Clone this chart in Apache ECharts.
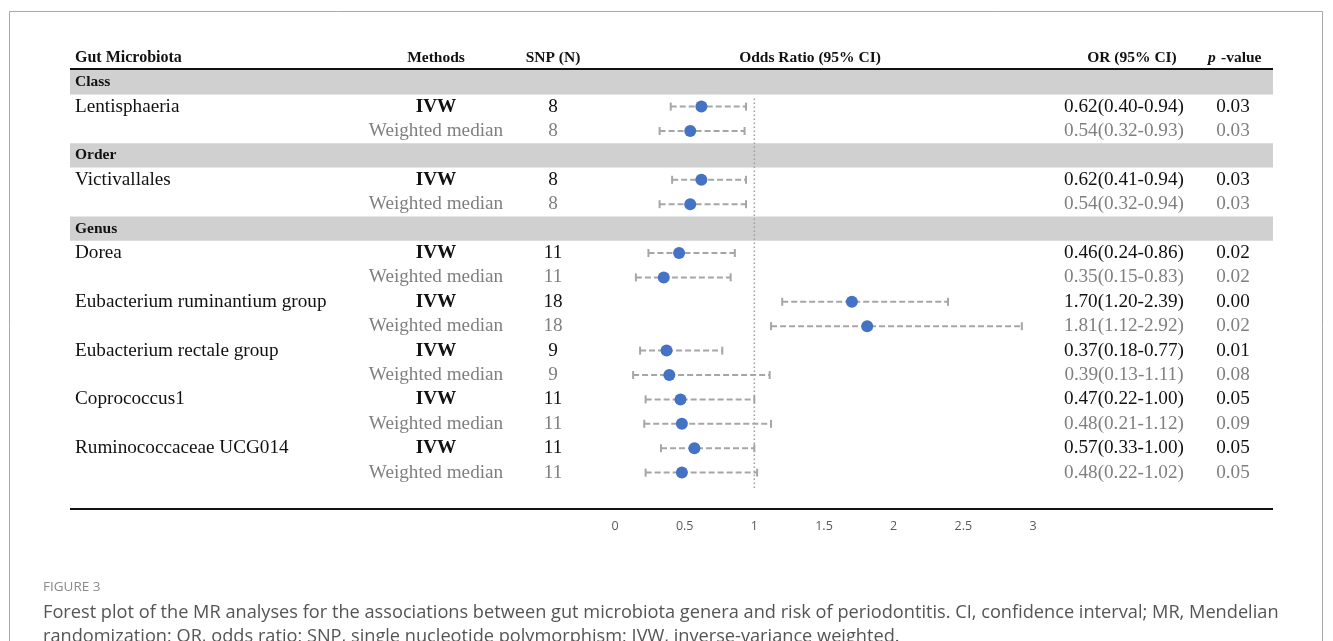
<!DOCTYPE html>
<html>
<head>
<meta charset="utf-8">
<title>Forest plot</title>
<script src="https://cdn.jsdelivr.net/npm/echarts@6/dist/echarts.min.js"></script>
<style>
  html, body { margin: 0; padding: 0; background: #fff; }
  #chart { width: 1333px; height: 641px; }
</style>
</head>
<body>
<div id="chart"></div>
<script>
// taxonomy groups and taxa
const groups = ['Class', 'Order', 'Genus']
const taxa = ['Lentisphaeria', 'Victivallales', 'Dorea', 'Eubacterium ruminantium group',
  'Eubacterium rectale group', 'Coprococcus1', 'Ruminococcaceae UCG014']
const taxonGroup = [0, 1, 2, 2, 2, 2, 2]
const methods = ['IVW', 'Weighted median']
const snpCount = [8, 8, 11, 18, 9, 11, 11]

// IVW estimates
const orIVW = [0.62, 0.62, 0.46, 1.70, 0.37, 0.47, 0.57]
const lowIVW = [0.40, 0.41, 0.24, 1.20, 0.18, 0.22, 0.33]
const highIVW = [0.94, 0.94, 0.86, 2.39, 0.77, 1.00, 1.00]
const pIVW = ['0.03', '0.03', '0.02', '0.00', '0.01', '0.05', '0.05']

// weighted median estimates
const orWM = [0.54, 0.54, 0.35, 1.81, 0.39, 0.48, 0.48]
const lowWM = [0.32, 0.32, 0.15, 1.12, 0.13, 0.21, 0.22]
const highWM = [0.93, 0.94, 0.83, 2.92, 1.11, 1.12, 1.02]
const pWM = ['0.03', '0.03', '0.02', '0.02', '0.08', '0.09', '0.05']

const xTicks = [0, 0.5, 1, 1.5, 2, 2.5, 3]

// build table rows: a grey band for each group, then two rows per taxon
const rows = []
let lastGroup = -1
taxa.forEach((name, i) => {
  if (taxonGroup[i] !== lastGroup) {
    rows.push({ kind: 'group', label: groups[taxonGroup[i]] })
    lastGroup = taxonGroup[i]
  }
  rows.push({ kind: 'ivw', name: name, method: methods[0], snp: snpCount[i],
    or: orIVW[i], low: lowIVW[i], high: highIVW[i], p: pIVW[i] })
  rows.push({ kind: 'wm', name: '', method: methods[1], snp: snpCount[i],
    or: orWM[i], low: lowWM[i], high: highWM[i], p: pWM[i] })
})

const fmt = v => v.toFixed(2)
const serif = '"Liberation Serif", "DejaVu Serif", serif'
const capFont = '"Open Sans", Lato, sans-serif'
const rowTop = 70
const rowH = 24.4
const tableH = rows.length * rowH

const chart = echarts.init(document.getElementById('chart'))

const option = {
  backgroundColor: '#fff',
  animation: false,
  grid: [
    // forest panel
    { left: 615, width: 418, top: rowTop, height: tableH },
    // full-width table panel
    { left: 0, right: 0, top: rowTop, height: tableH }
  ],
  xAxis: [
    {
      gridIndex: 0, type: 'value', min: 0, max: 3, interval: 0.5,
      axisLine: { show: false }, axisTick: { show: false }, splitLine: { show: false },
      axisLabel: {
        margin: 35, color: '#595959', fontSize: 12.5,
        fontFamily: '"Open Sans", sans-serif',
        formatter: v => (xTicks.indexOf(v) >= 0 ? String(v) : '')
      }
    },
    { gridIndex: 1, type: 'value', min: 0, max: 1333, show: false }
  ],
  yAxis: [
    { gridIndex: 0, type: 'category', inverse: true, data: rows.map((r, i) => i), show: false },
    { gridIndex: 1, type: 'category', inverse: true, data: rows.map((r, i) => i), show: false }
  ],
  series: [
    {
      // grey group bands and all table text
      type: 'custom',
      xAxisIndex: 1, yAxisIndex: 1,
      silent: true,
      z: 1,
      data: rows.map((r, i) => [0, i]),
      renderItem: function (params, api) {
        const r = rows[api.value(1)]
        const yc = api.coord([0, api.value(1)])[1]
        const children = []
        if (r.kind === 'group') {
          children.push({
            type: 'rect',
            shape: { x: 70, y: yc - rowH / 2, width: 1203, height: rowH },
            style: { fill: '#d1d0d1' }
          })
          children.push({
            type: 'text',
            style: { text: r.label, x: 75, y: yc, font: 'bold 15.5px ' + serif,
              fill: '#111', verticalAlign: 'middle' }
          })
          return { type: 'group', children: children }
        }
        const col = r.kind === 'ivw' ? '#111' : '#7f7f7f'
        const txt = (t, x, align, bold) => ({
          type: 'text',
          style: { text: t, x: x, y: yc, font: (bold ? 'bold ' : '') + '19.2px ' + serif,
            fill: col, align: align, verticalAlign: 'middle' }
        })
        if (r.name) children.push(txt(r.name, 75, 'left'))
        children.push(txt(r.method, 436, 'center', r.kind === 'ivw'))
        children.push(txt(String(r.snp), 553, 'center'))
        children.push(txt(fmt(r.or) + '(' + fmt(r.low) + '-' + fmt(r.high) + ')', 1124, 'center'))
        children.push(txt(r.p, 1233, 'center'))
        return { type: 'group', children: children }
      }
    },
    {
      // reference line at OR = 1
      type: 'custom',
      xAxisIndex: 0, yAxisIndex: 0,
      silent: true,
      z: 2,
      data: [[1, 1]],
      renderItem: function (params, api) {
        const p = api.coord([api.value(0), api.value(1)])
        return {
          type: 'line',
          shape: { x1: p[0], y1: p[1] - 8, x2: p[0], y2: params.coordSys.y + params.coordSys.height + 5 },
          style: { stroke: '#a0a0a0', lineWidth: 1.5, lineDash: [1.5, 2.5] }
        }
      }
    },
    {
      // confidence intervals
      type: 'custom',
      xAxisIndex: 0, yAxisIndex: 0,
      silent: true,
      z: 3,
      data: rows.map((r, i) => (r.kind === 'group' ? null : [r.low, r.high, i])).filter(d => d),
      renderItem: function (params, api) {
        const a = api.coord([api.value(0), api.value(2)])
        const b = api.coord([api.value(1), api.value(2)])
        const st = { stroke: '#a6a6a6', lineWidth: 2 }
        return {
          type: 'group',
          children: [
            { type: 'line', shape: { x1: a[0], y1: a[1], x2: b[0], y2: b[1] },
              style: Object.assign({ lineDash: [6, 3] }, st) },
            { type: 'line', shape: { x1: a[0], y1: a[1] - 4, x2: a[0], y2: a[1] + 4 }, style: st },
            { type: 'line', shape: { x1: b[0], y1: b[1] - 4, x2: b[0], y2: b[1] + 4 }, style: st }
          ]
        }
      }
    },
    {
      // point estimates
      type: 'scatter',
      xAxisIndex: 0, yAxisIndex: 0,
      symbolSize: 12,
      z: 4,
      itemStyle: { color: '#4472c4', opacity: 1 },
      data: rows.map((r, i) => (r.kind === 'group' ? null : [r.or, i])).filter(d => d)
    }
  ],
  graphic: [
    // figure frame
    { type: 'rect', shape: { x: 9.5, y: 11.5, width: 1313, height: 700 },
      style: { fill: 'none', stroke: '#a8a8a8', lineWidth: 1 }, z: 0 },
    // header rule and bottom rule
    { type: 'line', shape: { x1: 70, y1: 69, x2: 1273, y2: 69 }, style: { stroke: '#111', lineWidth: 2 } },
    { type: 'line', shape: { x1: 70, y1: 509, x2: 1273, y2: 509 }, style: { stroke: '#111', lineWidth: 2 } },
    // column headers
    { type: 'text', x: 75, y: 58, style: { text: 'Gut Microbiota', font: 'bold 16px ' + serif, fill: '#111', verticalAlign: 'middle' } },
    { type: 'text', x: 436, y: 58, style: { text: 'Methods', font: 'bold 15.5px ' + serif, fill: '#111', align: 'center', verticalAlign: 'middle' } },
    { type: 'text', x: 553, y: 58, style: { text: 'SNP (N)', font: 'bold 15.5px ' + serif, fill: '#111', align: 'center', verticalAlign: 'middle' } },
    { type: 'text', x: 810, y: 58, style: { text: 'Odds Ratio (95% CI)', font: 'bold 15.5px ' + serif, fill: '#111', align: 'center', verticalAlign: 'middle' } },
    { type: 'text', x: 1132, y: 58, style: { text: 'OR (95% CI)', font: 'bold 15.5px ' + serif, fill: '#111', align: 'center', verticalAlign: 'middle' } },
    { type: 'text', x: 1208, y: 58, style: { text: 'p', font: 'italic bold 15.5px ' + serif, fill: '#111', verticalAlign: 'middle' } },
    { type: 'text', x: 1221, y: 58, style: { text: '-value', font: 'bold 15.5px ' + serif, fill: '#111', verticalAlign: 'middle' } },
    // caption
    { type: 'text', x: 43, y: 587, style: { text: 'FIGURE 3', font: '13.5px ' + capFont, fill: '#8a8a8a', verticalAlign: 'middle' } },
    { type: 'text', x: 43, y: 613, style: { text: 'Forest plot of the MR analyses for the associations between gut microbiota genera and risk of periodontitis. CI, confidence interval; MR, Mendelian', font: '18.2px ' + capFont, fill: '#555', verticalAlign: 'middle' } },
    { type: 'text', x: 43, y: 637, style: { text: 'randomization; OR, odds ratio; SNP, single nucleotide polymorphism; IVW, inverse-variance weighted.', font: '18.2px ' + capFont, fill: '#555', verticalAlign: 'middle' } }
  ]
}

chart.setOption(option)
</script>
</body>
</html>
